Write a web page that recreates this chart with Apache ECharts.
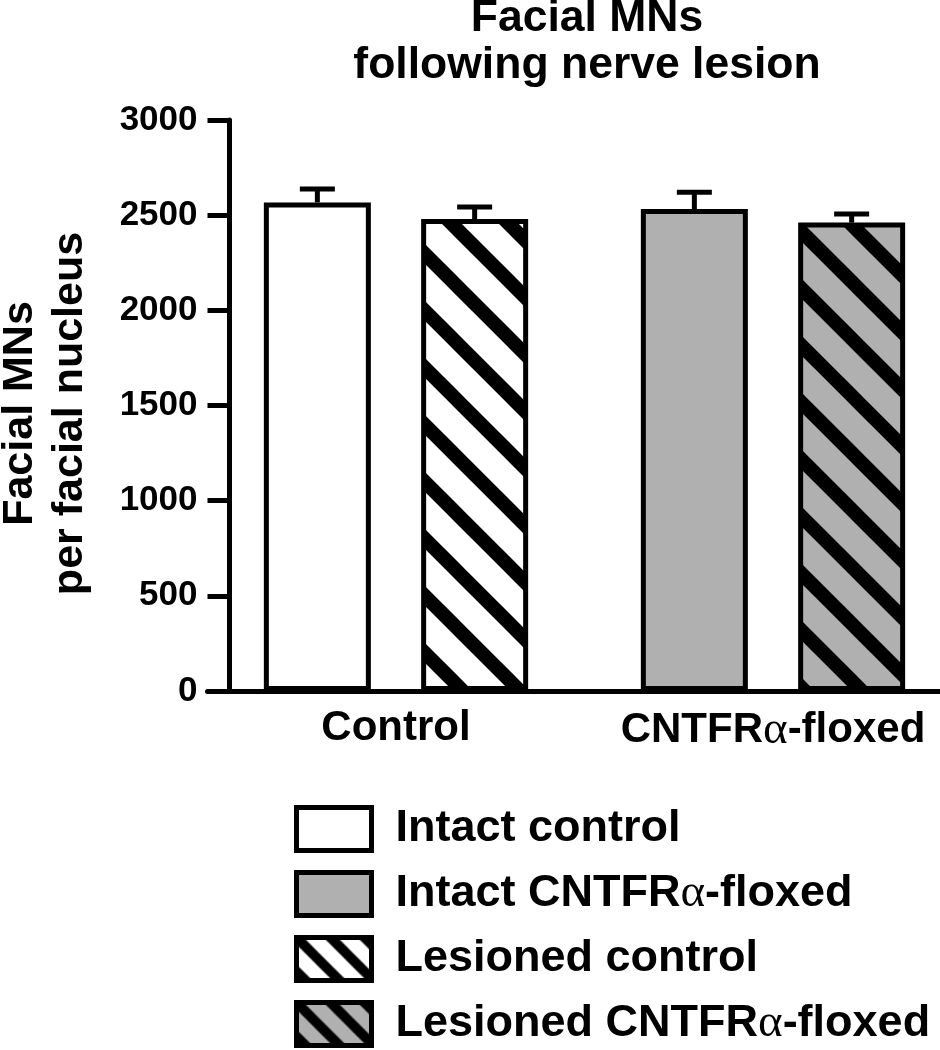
<!DOCTYPE html>
<html>
<head>
<meta charset="utf-8">
<script src="https://cdn.jsdelivr.net/npm/echarts@6/dist/echarts.min.js"></script>
<style>
html,body{margin:0;padding:0;background:#fff;}
#chart{width:940px;height:1050px;}
</style>
</head>
<body>
<div id="chart"></div>
<script>
// ---- data ----
const titleLines = ['Facial MNs', 'following nerve lesion'];
const yAxisTitle = ['Facial MNs', 'per facial nucleus'];
const groups = ['Control', 'CNTFRα-floxed'];
const seriesNames = ['Intact control', 'Intact CNTFRα-floxed', 'Lesioned control', 'Lesioned CNTFRα-floxed'];
const intactControl = [2567, '-'];
const intactFloxed = ['-', 2532];
const lesionedControl = [2480, '-'];
const lesionedFloxed = ['-', 2461];
const intactErr = [70, 88];
const lesionedErr = [63, 45];
const yTicks = [0, 500, 1000, 1500, 2000, 2500, 3000];

// ---- styles ----
const FONT = '"Liberation Sans", Arial, Helvetica, sans-serif';
const GRAY = '#b0b0b0';
const BAR_W = 107;
const BAR_GAP = 0.47;

function makePattern(bg, S, w) {
  const c = document.createElement('canvas');
  c.width = S; c.height = S;
  const ctx = c.getContext('2d');
  ctx.fillStyle = bg; ctx.fillRect(0, 0, S, S);
  ctx.strokeStyle = '#000'; ctx.lineWidth = w;
  [-S, 0, S].forEach(k => {
    ctx.beginPath();
    ctx.moveTo(k - w, -w);
    ctx.lineTo(k + S + w, S + w);
    ctx.stroke();
  });
  return { image: c, repeat: 'repeat' };
}
const fills = ['#ffffff', GRAY, makePattern('#ffffff', 57, 14), makePattern(GRAY, 57, 14)];
const legendFills = ['#ffffff', GRAY, makePattern('#ffffff', 34, 10), makePattern(GRAY, 34, 10)];
const stacks = ['intact', 'intact', 'lesioned', 'lesioned'];
const values = [intactControl, intactFloxed, lesionedControl, lesionedFloxed];

function richAlpha(s) { return s.replace(/α/g, '{g|α}'); }

const chart = echarts.init(document.getElementById('chart'), null, { renderer: 'canvas' });

const barSeries = seriesNames.map((name, i) => ({
  name: name,
  type: 'bar',
  stack: stacks[i],
  data: values[i],
  barWidth: BAR_W,
  barGap: (BAR_GAP * 100) + '%',
  itemStyle: { color: fills[i], borderColor: '#000', borderWidth: 5 },
  emphasis: { disabled: true },
  z: 2
}));

const errData = [];
groups.forEach((g, gi) => {
  const iv = intactControl[gi] !== '-' ? intactControl[gi] : intactFloxed[gi];
  const lv = lesionedControl[gi] !== '-' ? lesionedControl[gi] : lesionedFloxed[gi];
  errData.push([gi, iv, intactErr[gi], -1]);
  errData.push([gi, lv, lesionedErr[gi], 1]);
});

const errSeries = {
  type: 'custom',
  data: errData,
  z: 5,
  silent: true,
  renderItem: function (params, api) {
    const off = api.value(3) * BAR_W * (1 + BAR_GAP) / 2;
    const base = api.coord([api.value(0), api.value(1)]);
    const top = api.coord([api.value(0), api.value(1) + api.value(2)]);
    const x = base[0] + off;
    const capHalf = 17.5;
    return {
      type: 'group',
      children: [
        { type: 'line', shape: { x1: x, y1: base[1], x2: x, y2: top[1] }, style: { stroke: '#000', lineWidth: 5 } },
        { type: 'line', shape: { x1: x - capHalf, y1: top[1], x2: x + capHalf, y2: top[1] }, style: { stroke: '#000', lineWidth: 5 } }
      ]
    };
  }
};

const option = {
  backgroundColor: '#ffffff',
  animation: false,
  textStyle: { fontFamily: FONT },
  title: {
    text: titleLines.join('\n'),
    left: 587,
    top: -5,
    padding: 0,
    textAlign: 'center',
    textStyle: { fontFamily: FONT, fontSize: 44.5, fontWeight: 'bold', color: '#000', lineHeight: 47 }
  },
  legend: {
    orient: 'vertical',
    left: 294,
    top: 805,
    padding: 0,
    itemWidth: 75,
    itemHeight: 43,
    itemGap: 17,
    icon: 'rect',
    selectedMode: false,
    formatter: function (n) { return richAlpha(n); },
    textStyle: { fontFamily: FONT, fontSize: 45, fontWeight: 'bold', color: '#000', lineHeight: 48, padding: [0, 0, 0, 19], rich: { g: { fontFamily: '"Liberation Serif", serif', fontWeight: 'normal', fontSize: 47 } } },
    data: seriesNames.map((n, i) => ({ name: n, itemStyle: { color: legendFills[i], borderColor: '#000', borderWidth: 5 } }))
  },
  grid: { left: 207.5, top: 120, width: 754, height: 571, containLabel: false, outerBoundsMode: 'none' },
  xAxis: {
    type: 'category',
    data: groups,
    axisLine: { lineStyle: { color: '#000', width: 5 } },
    axisTick: { show: false },
    axisLabel: {
      interval: 0,
      hideOverlap: false,
      margin: 16,
      fontFamily: FONT, fontSize: 42, fontWeight: 'bold', color: '#000',
      formatter: function (v) { return richAlpha(v); },
      rich: { g: { fontFamily: '"Liberation Serif", serif', fontWeight: 'normal', fontSize: 47, color: '#000' } }
    },
    splitLine: { show: false }
  },
  yAxis: {
    type: 'value',
    min: yTicks[0],
    max: yTicks[yTicks.length - 1],
    interval: yTicks[1] - yTicks[0],
    offset: -22,
    name: yAxisTitle.join('\n'),
    nameLocation: 'middle',
    nameRotate: 90,
    nameGap: 134,
    nameTextStyle: { fontFamily: FONT, fontSize: 43, fontWeight: 'bold', color: '#000', lineHeight: 50, padding: [0, 16, 0, 0] },
    axisLine: { show: true, lineStyle: { color: '#000', width: 5 } },
    axisTick: { show: true, length: 22, lineStyle: { color: '#000', width: 5 } },
    axisLabel: { margin: 32, fontFamily: FONT, fontSize: 35, fontWeight: 'bold', color: '#000', formatter: function (v) { return String(v); } },
    splitLine: { show: false }
  },
  series: barSeries.concat([errSeries])
};
chart.setOption(option);
</script>
</body>
</html>
